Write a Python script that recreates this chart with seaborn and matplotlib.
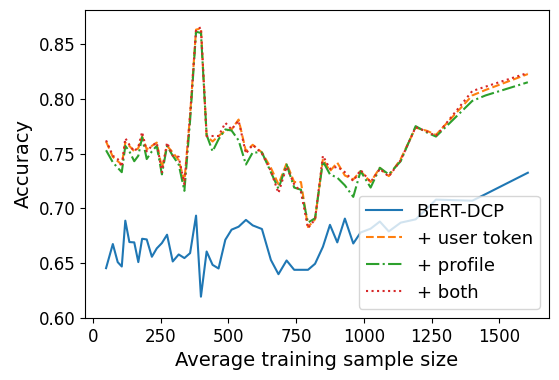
import matplotlib
matplotlib.use('Agg')
import matplotlib.pyplot as plt
import seaborn as sns

# Average training sample size (shared x for all runs)
sample_size = [49, 74, 92, 107, 120, 135, 153, 168, 182, 199, 218, 236, 255, 274, 295, 317,
               338, 359, 381, 399, 420, 442, 464, 489, 512, 538, 565, 590, 624, 657, 685, 715,
               743, 768, 794, 820, 849, 875, 902, 930, 961, 988, 1025, 1059, 1092, 1136, 1191,
               1234, 1266, 1400, 1449, 1605]

bert_dcp = [0.6455, 0.6675, 0.651, 0.647, 0.6888, 0.6693, 0.669, 0.651, 0.6723, 0.6717, 0.6559,
            0.6635, 0.6684, 0.676, 0.6516, 0.658, 0.6547, 0.6592, 0.6934, 0.6195, 0.6607, 0.6485,
            0.6452, 0.6714, 0.6806, 0.6833, 0.6895, 0.6845, 0.6812, 0.653, 0.640, 0.6525, 0.644,
            0.644, 0.644, 0.6495, 0.665, 0.685, 0.669, 0.6907, 0.668, 0.678, 0.6815, 0.688, 0.679,
            0.687, 0.690, 0.700, 0.708, 0.707, 0.713, 0.7325]

user_token = [0.761, 0.747, 0.743, 0.740, 0.760, 0.757, 0.752, 0.755, 0.7655, 0.754, 0.757,
              0.760, 0.737, 0.757, 0.751, 0.744, 0.7248, 0.785, 0.863, 0.864, 0.766, 0.761,
              0.766, 0.771, 0.772, 0.781, 0.752, 0.758, 0.751, 0.737, 0.722, 0.741, 0.724,
              0.724, 0.683, 0.690, 0.745, 0.734, 0.7417, 0.730, 0.7264, 0.734, 0.724, 0.737,
              0.7294, 0.745, 0.7737, 0.7706, 0.767, 0.803, 0.808, 0.8225]

profile = [0.753, 0.742, 0.737, 0.733, 0.757, 0.752, 0.743, 0.748, 0.765, 0.745, 0.752, 0.757,
           0.731, 0.757, 0.748, 0.740, 0.716, 0.780, 0.861, 0.860, 0.767, 0.752, 0.763, 0.772,
           0.771, 0.762, 0.740, 0.751, 0.751, 0.733, 0.718, 0.740, 0.719, 0.717, 0.687, 0.691,
           0.743, 0.731, 0.728, 0.721, 0.7105, 0.734, 0.719, 0.737, 0.731, 0.743, 0.775, 0.769,
           0.7655, 0.798, 0.803, 0.815]

both = [0.762, 0.748, 0.745, 0.738, 0.764, 0.758, 0.752, 0.756, 0.7697, 0.752, 0.757, 0.760,
        0.733, 0.760, 0.748, 0.747, 0.722, 0.785, 0.863, 0.865, 0.766, 0.766, 0.766, 0.778,
        0.772, 0.780, 0.750, 0.758, 0.750, 0.734, 0.714, 0.738, 0.722, 0.715, 0.682, 0.690,
        0.748, 0.736, 0.738, 0.733, 0.725, 0.735, 0.724, 0.736, 0.729, 0.744, 0.774, 0.770,
        0.766, 0.807, 0.811, 0.8235]

x_ticks = [0, 250, 500, 750, 1000, 1250, 1500]

fig, ax = plt.subplots(figsize=(5.59, 3.80), dpi=100)
fig.subplots_adjust(left=0.152, right=0.982, bottom=0.163, top=0.974)

sns.lineplot(x=sample_size, y=bert_dcp, ax=ax, color='#1f77b4', linestyle='-', label='BERT-DCP')
sns.lineplot(x=sample_size, y=user_token, ax=ax, color='#ff7f0e', linestyle='--', label='+ user token')
sns.lineplot(x=sample_size, y=profile, ax=ax, color='#2ca02c', linestyle='-.', label='+ profile')
sns.lineplot(x=sample_size, y=both, ax=ax, color='#d62728', linestyle=':', label='+ both')

ax.set_ylim(0.6, 0.881)
ax.set_xticks(x_ticks)
ax.set_xlabel('Average training sample size', fontsize=14)
ax.set_ylabel('Accuracy', fontsize=14)
ax.tick_params(labelsize=12)
ax.legend(loc='lower right', fontsize=13)

plt.savefig('out.png', dpi=100)
